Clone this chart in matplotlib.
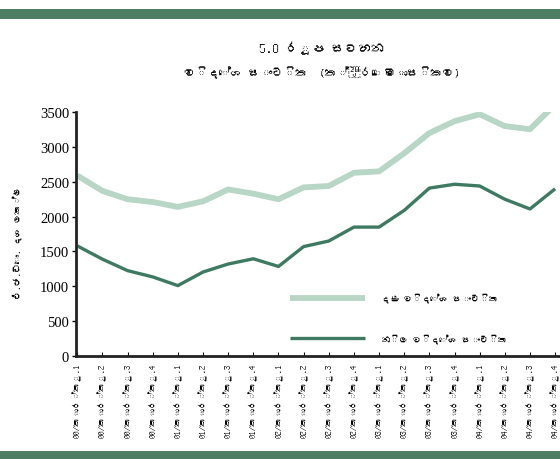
import matplotlib
matplotlib.use('Agg')
import matplotlib.pyplot as plt
from matplotlib import font_manager, ft2font
from matplotlib.patches import Rectangle

# Quarterly foreign reserves, US$ million
quarters = ['00/කාර්තු.1', '00/කාර්තු.2', '00/කාර්තු.3', '00/කාර්තු.4',
            '01/කාර්තු.1', '01/කාර්තු.2', '01/කාර්තු.3', '01/කාර්තු.4',
            '02/කාර්තු.1', '02/කාර්තු.2', '02/කාර්තු.3', '02/කාර්තු.4',
            '03/කාර්තු.1', '03/කාර්තු.2', '03/කාර්තු.3', '03/කාර්තු.4',
            '04/කාර්තු.1', '04/කාර්තු.2', '04/කාර්තු.3', '04/කාර්තු.4']
gross = [2590, 2370, 2250, 2210, 2140, 2220, 2390, 2330, 2250, 2420,
         2440, 2630, 2650, 2910, 3200, 3370, 3470, 3300, 3255, 3610]
official = [1580, 1390, 1225, 1135, 1010, 1205, 1320, 1395, 1285, 1570,
            1650, 1850, 1850, 2090, 2410, 2465, 2440, 2250, 2110, 2400]

title_1 = '5.8 රූප සටහන'
title_2 = 'විදේශ සංචිත  (ත්‍රෛමාසිකව)'
y_label = 'එ.ජ.ඩො. දශ ලක්ෂ'
label_gross = 'දළ විදේශ සංචිත'
label_official = 'නිල විදේශ සංචිත'


def find_sinhala_font():
    for path in font_manager.findSystemFonts():
        try:
            f = ft2font.FT2Font(path)
            if 0x0DC0 in f.get_charmap():
                font_manager.fontManager.addfont(path)
                return font_manager.FontProperties(fname=path).get_name()
        except Exception:
            continue
    return None


sinhala = find_sinhala_font()
fam_sans = [sinhala, 'DejaVu Sans'] if sinhala else ['DejaVu Sans']
fam_serif = [sinhala, 'Liberation Serif'] if sinhala else ['Liberation Serif', 'DejaVu Sans']

light = '#b7d6c6'
dark = '#3e7a62'
band = '#4d7d62'

fig = plt.figure(figsize=(5.6, 4.6), dpi=100)
fig.patch.set_facecolor('white')

# scanned page bands top and bottom
fig.add_artist(Rectangle((0.0, 0.957), 1.0, 0.022, transform=fig.transFigure,
                         color=band, lw=0))
fig.add_artist(Rectangle((0.0, 0.0), 1.0, 0.018, transform=fig.transFigure,
                         color=band, lw=0))

ax = fig.add_axes([0.1357, 0.224, 0.914, 0.530])
x = list(range(len(quarters)))
ax.plot(x, gross, color=light, lw=4.2, solid_capstyle='butt', label=label_gross)
ax.plot(x, official, color=dark, lw=2.4, solid_capstyle='butt', label=label_official)

ax.set_xlim(-0.05, 20.3)
ax.set_ylim(0, 3500)
ax.set_yticks(range(0, 3501, 500))
ax.set_xticks(x)
ax.set_xticklabels(quarters, rotation=90, family=fam_sans, fontsize=6.3)
for lab in ax.get_yticklabels():
    lab.set_family(['Liberation Serif'])
    lab.set_fontsize(10.5)

for side in ['top', 'right']:
    ax.spines[side].set_visible(False)
ax.spines['left'].set_linewidth(2.0)
ax.spines['bottom'].set_linewidth(2.0)
ax.spines['left'].set_color('#222222')
ax.spines['bottom'].set_color('#222222')
ax.tick_params(axis='y', direction='out', length=3, width=1, pad=2)
ax.tick_params(axis='x', direction='in', length=3, width=0.8, pad=5)

ax.set_ylabel(y_label, family=fam_sans, fontsize=6.5, labelpad=10)
ax.yaxis.set_label_coords(-0.105, 0.47)

fig.text(0.575, 0.895, title_1, ha='center', va='center', family=fam_serif,
         fontsize=9.5, fontweight='bold')
fig.text(0.575, 0.842, title_2, ha='center', va='center', family=fam_sans,
         fontsize=8.5, fontweight='bold')

leg = ax.legend(loc='upper left', bbox_to_anchor=(0.518, 0.362),
                bbox_transform=fig.transFigure, frameon=False,
                handlelength=8.3, handletextpad=1.8, labelspacing=3.4,
                borderpad=0, borderaxespad=0,
                prop={'family': fam_sans, 'size': 6.5})

fig.savefig('out.png', dpi=100, facecolor='white')
